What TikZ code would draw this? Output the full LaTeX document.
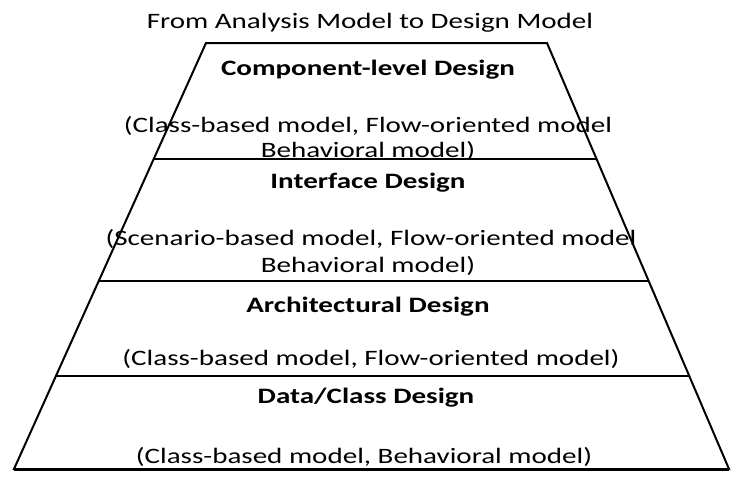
\documentclass[tikz,border=0pt]{standalone}
\usepackage{fontspec}
\setmainfont{Carlito}
\newcommand\xs[1]{\scalebox{1.32}[1]{#1}}
\begin{document}
\begin{tikzpicture}[x=1pt,y=-1pt,
  lbl/.style={anchor=base,inner sep=0pt,font=\fontsize{22}{26}\selectfont},
  ttl/.style={lbl,font=\fontsize{22}{26}\selectfont\bfseries},
  edge/.style={line width=2pt,black},
  sep/.style={line width=2.3pt,black}]
\useasboundingbox (0,0) rectangle (731,479);
% corners
\coordinate (tl) at (206,43);
\coordinate (tr) at (547,43);
\coordinate (bl) at (14,469);
\coordinate (br) at (729,469);
% trapezoid
\draw[edge,line join=miter] (tl) -- (tr) -- (br) -- (bl) -- cycle;
\draw[line width=3pt] (bl) -- (br);
% separators
\foreach \n/\y in {a/159,b/281,c/376}{
  \path (tl) -- (bl) coordinate[pos={(\y-43)/426}] (l\n);
  \path (tr) -- (br) coordinate[pos={(\y-43)/426}] (r\n);
  \draw[sep] (l\n) -- (r\n);
}
% texts
\node[lbl] (title) at (370,28) {\xs{From Analysis Model to Design Model}};
\node[ttl] (h1) at (368,75) {\xs{Component-level Design}};
\node[lbl] (d1a) at (368,132) {\xs{(Class-based model, Flow-oriented model}};
\node[lbl] (d1b) at (368,157) {\xs{Behavioral model)}};
\node[ttl] (h2) at (368,188) {\xs{Interface Design}};
\node[lbl] (d2a) at (371,245) {\xs{(Scenario-based model, Flow-oriented model}};
\node[lbl] (d2b) at (368,272) {\xs{Behavioral model)}};
\node[ttl] (h3) at (368,312) {\xs{Architectural Design}};
\node[lbl] (d3) at (371,365) {\xs{(Class-based model, Flow-oriented model)}};
\node[ttl] (h4) at (366,403) {\xs{Data/Class Design}};
\node[lbl] (d4) at (364,463) {\xs{(Class-based model, Behavioral model)}};
\end{tikzpicture}
\end{document}
